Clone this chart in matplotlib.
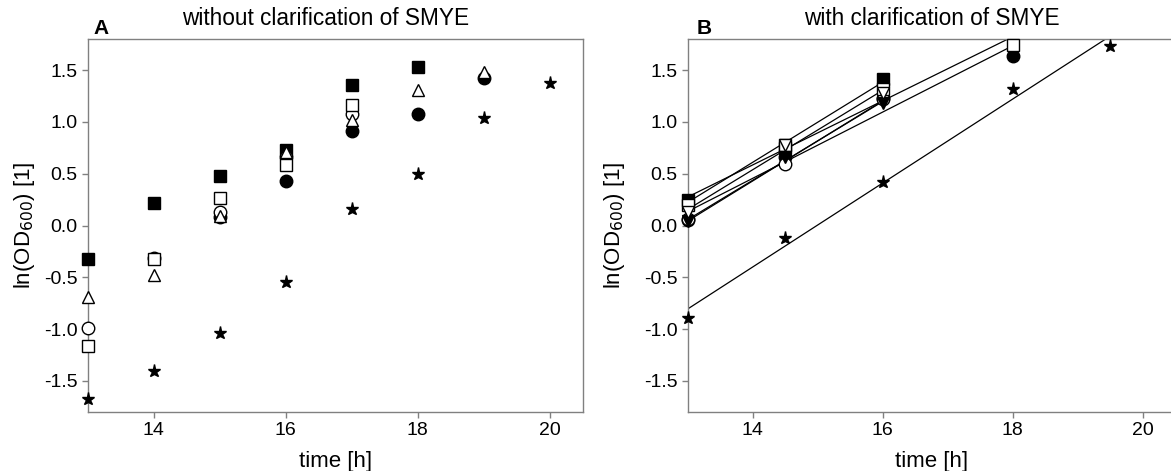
import numpy as np
import matplotlib
matplotlib.use("Agg")
import matplotlib.pyplot as plt

plt.rcParams['font.family'] = ['Liberation Sans', 'DejaVu Sans']
plt.rcParams['axes.unicode_minus'] = False

# ---------------- panel A: without clarification ----------------
a_time_full = [13, 14, 15, 16, 17, 18]
a_fsq = [-0.32, 0.22, 0.48, 0.73, 1.36, 1.53]          # filled square
a_time_osq = [13, 14, 15, 16, 17]
a_osq = [-1.16, -0.32, 0.27, 0.58, 1.16]               # open square
a_time_oci = [13, 14, 15, 16, 17]
a_oci = [-0.99, -0.31, 0.13, 0.66, 1.08]               # open circle
a_time_tri = [13, 14, 15, 16, 17, 18, 19]
a_tri = [-0.69, -0.48, 0.09, 0.71, 1.02, 1.31, 1.48]   # open triangle
a_time_fci = [15, 16, 17, 18, 19]
a_fci = [0.08, 0.43, 0.91, 1.08, 1.42]                 # filled circle
a_time_star = [13, 14, 15, 16, 17, 18, 19, 20]
a_star = [-1.67, -1.40, -1.04, -0.55, 0.16, 0.50, 1.04, 1.38]

# ---------------- panel B: with clarification ----------------
b_time3 = [13, 14.5, 16]
b_time4 = [13, 14.5, 16, 18]
b_fsq = [0.25, 0.75, 1.41]
b_osq = [0.20, 0.78, 1.32, 1.74]
b_oci = [0.06, 0.59, 1.22]
b_fci = [0.05, 0.66, 1.23, 1.64]
b_otd = [0.13, 0.78, 1.28]          # open triangle down
b_ftd = [0.04, 0.66, 1.18]          # filled triangle down
b_time_star = [13, 14.5, 16, 18, 19.5]
b_star = [-0.89, -0.125, 0.42, 1.32, 1.73]

W, H = 1171, 471
fig = plt.figure(figsize=(W / 100, H / 100), dpi=100)
axA = fig.add_axes([87.7 / W, 1 - 412 / H, 495 / W, 373 / H])
axB = fig.add_axes([687.7 / W, 1 - 412 / H, 487.5 / W, 373 / H])

spine_col = '#808080'


def style(ax, ylab_x):
    ax.set_xlim(13, 20.5)
    ax.set_ylim(-1.8, 1.8)
    ax.set_xticks([14, 16, 18, 20])
    ax.set_yticks([-1.5, -1.0, -0.5, 0.0, 0.5, 1.0, 1.5])
    ax.set_yticklabels(['-1.5', '-1.0', '-0.5', '0.0', '0.5', '1.0', '1.5'])
    for s in ax.spines.values():
        s.set_color(spine_col)
        s.set_linewidth(1.0)
    ax.tick_params(direction='out', length=4.5, width=1.0, color=spine_col,
                   labelsize=14, pad=3)
    ax.set_xlabel('time [h]', fontsize=16)
    ax.set_ylabel(r'ln(OD$_{600}$) [1]', fontsize=16)
    ax.xaxis.set_label_coords(0.5, -0.105)
    ax.yaxis.set_label_coords(ylab_x, 0.5)


def pts(ax, x, y, marker, filled, ms=9, z=3):
    ax.plot(x, y, linestyle='none', marker=marker, ms=ms,
            mfc='black' if filled else 'white', mec='black', mew=1.0,
            clip_on=False, zorder=z)


style(axA, -0.102)
pts(axA, a_time_full, a_fsq, 's', True, ms=8.5)
pts(axA, a_time_fci, a_fci, 'o', True)
pts(axA, a_time_oci, a_oci, 'o', False)
pts(axA, a_time_osq, a_osq, 's', False, ms=8.5)
pts(axA, a_time_tri, a_tri, '^', False)
pts(axA, a_time_star, a_star, '*', True, ms=9.5)
axA.text(0.481, 1.025, 'without clarification of SMYE', transform=axA.transAxes,
         ha='center', va='bottom', fontsize=16.3)
fig.text(101.5 / W, 1 - 28 / H, 'A', ha='center', va='center',
         fontsize=15, fontweight='bold')

style(axB, -0.124)
# regression lines through each series
for x, y in [(b_time3, b_fsq), (b_time4, b_osq), (b_time3, b_oci),
             (b_time4, b_fci), (b_time3, b_otd), (b_time3, b_ftd),
             (b_time_star, b_star)]:
    k, d = np.polyfit(x, y, 1)
    xx = np.array([x[0], x[-1]])
    axB.plot(xx, k * xx + d, color='black', lw=0.9, zorder=2)

pts(axB, b_time3, b_fsq, 's', True, ms=8.5)
pts(axB, b_time4, b_fci, 'o', True)
pts(axB, b_time3, b_oci, 'o', False)
pts(axB, b_time4, b_osq, 's', False, ms=8.5)
pts(axB, b_time3, b_ftd, 'v', True)
pts(axB, b_time3, b_otd, 'v', False)
pts(axB, b_time_star, b_star, '*', True, ms=9.5)
axB.text(0.5, 1.025, 'with clarification of SMYE', transform=axB.transAxes,
         ha='center', va='bottom', fontsize=16.3)
fig.text(704 / W, 1 - 28 / H, 'B', ha='center', va='center',
         fontsize=15, fontweight='bold')

fig.savefig('out.png', dpi=100)
